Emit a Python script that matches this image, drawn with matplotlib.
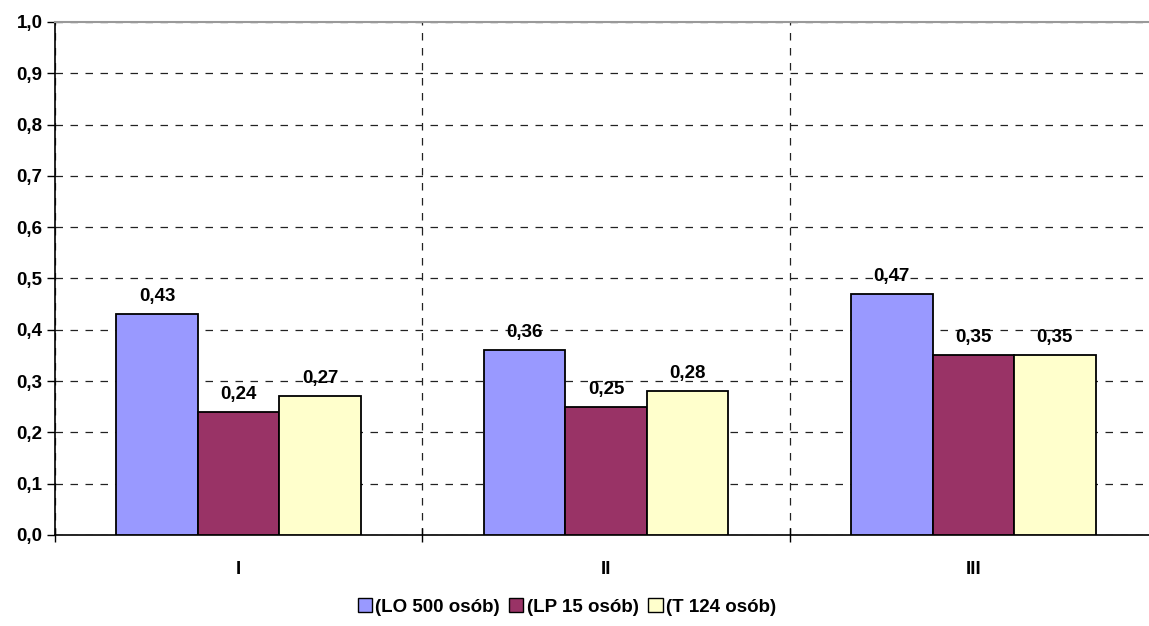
import matplotlib
matplotlib.use("Agg")
import matplotlib.pyplot as plt
from matplotlib.patches import Patch
from matplotlib.ticker import FixedLocator, FuncFormatter
import numpy as np

plt.rcParams['font.family'] = ['Liberation Sans', 'DejaVu Sans']
plt.rcParams['font.weight'] = 'bold'

categories = ["I", "II", "III"]
series_names = ["(LO 500 osób)", "(LP 15 osób)", "(T 124 osób)"]
lo_500 = [0.43, 0.36, 0.47]
lp_15 = [0.24, 0.25, 0.35]
t_124 = [0.27, 0.28, 0.35]

COLORS = ["#9999FF", "#993366", "#FFFFCC"]
FS = 13.5

fig = plt.figure(figsize=(11.49, 6.26), dpi=100)
ax = fig.add_axes([55 / 1149, 91 / 626, 1102 / 1149, 513 / 626])

x = np.arange(len(categories))
bar_w = 0.222
for i, (vals, color) in enumerate(zip([lo_500, lp_15, t_124], COLORS)):
  pos = x + (i - 1) * bar_w
  ax.bar(pos, vals, width=bar_w, color=color, edgecolor="black", linewidth=1.3, zorder=3)
  for px, v in zip(pos, vals):
    ax.text(px, v + 0.018, f"{v:.2f}".replace(".", ","), ha="center", va="bottom",
            fontsize=FS, fontweight="bold", zorder=4)

ax.set_xlim(-0.5, 2.5)
ax.set_ylim(0, 1.0)

# y axis: decimal comma labels, dashed gridlines
ax.set_yticks(np.arange(0, 1.01, 0.1))
ax.yaxis.set_major_formatter(FuncFormatter(lambda v, _: f"{v:.1f}".replace(".", ",")))
ax.tick_params(axis="y", direction="out", length=6, width=1, labelsize=FS, pad=3)
ax.yaxis.grid(True, linestyle=(0, (6, 6)), color="#222222", linewidth=0.9)

# x axis: ticks and dashed lines on category boundaries, labels centred
ax.xaxis.set_major_locator(FixedLocator([-0.5, 0.5, 1.5, 2.5]))
ax.xaxis.set_major_formatter(FuncFormatter(lambda v, _: ""))
ax.xaxis.set_minor_locator(FixedLocator(x))
ax.set_xticklabels(categories, minor=True)
ax.tick_params(axis="x", which="major", direction="inout", length=10, width=1)
ax.tick_params(axis="x", which="minor", length=0, labelsize=FS, pad=19)
ax.xaxis.grid(True, which="major", linestyle=(0, (6, 6)), color="#222222", linewidth=0.9)
ax.set_axisbelow(True)

ax.spines["right"].set_visible(False)
ax.spines["top"].set_color("#999999")
ax.spines["top"].set_linewidth(1.5)
ax.spines["left"].set_linewidth(1.2)
ax.spines["bottom"].set_linewidth(1.2)

legend_items = [Patch(facecolor=c, edgecolor="black", linewidth=1, label=n)
                for c, n in zip(COLORS, series_names)]
fig.legend(handles=legend_items, loc="center", bbox_to_anchor=(567 / 1149, 1 - 607 / 626),
           ncol=3, frameon=False, fontsize=FS, handlelength=0.75, handleheight=0.75,
           handletextpad=0.2, columnspacing=0.5)

fig.savefig("out.png", dpi=100)
